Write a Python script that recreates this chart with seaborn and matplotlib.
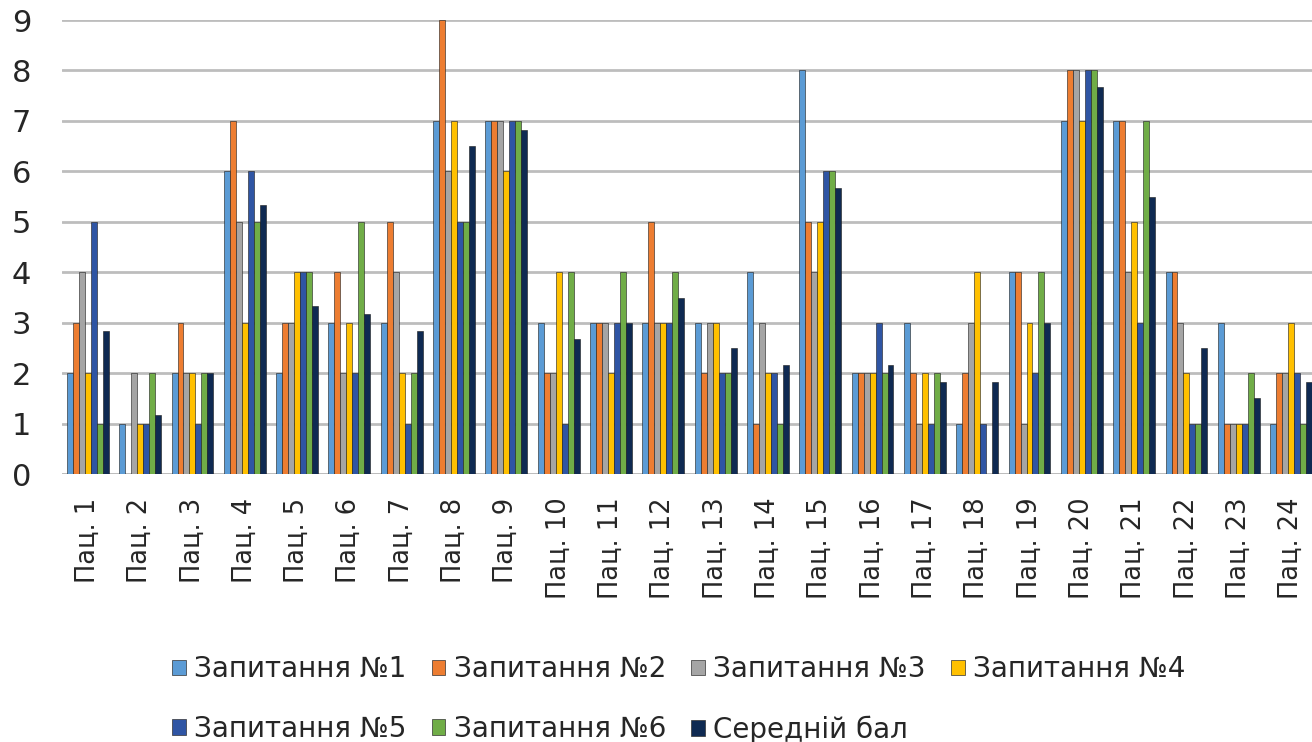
import matplotlib
matplotlib.use("Agg")
import matplotlib.pyplot as plt
import pandas as pd
import seaborn as sns
from matplotlib.patches import Patch

patients = [f"Пац. {i}" for i in range(1, 25)]
series_names = [
    "Запитання №1",
    "Запитання №2",
    "Запитання №3",
    "Запитання №4",
    "Запитання №5",
    "Запитання №6",
    "Середній бал",
]

q1 = [2, 1, 2, 6, 2, 3, 3, 7, 7, 3, 3, 3, 3, 4, 8, 2, 3, 1, 4, 7, 7, 4, 3, 1]
q2 = [3, 0, 3, 7, 3, 4, 5, 9, 7, 2, 3, 5, 2, 1, 5, 2, 2, 2, 4, 8, 7, 4, 1, 2]
q3 = [4, 2, 2, 5, 3, 2, 4, 6, 7, 2, 3, 3, 3, 3, 4, 2, 1, 3, 1, 8, 4, 3, 1, 2]
q4 = [2, 1, 2, 3, 4, 3, 2, 7, 6, 4, 2, 3, 3, 2, 5, 2, 2, 4, 3, 7, 5, 2, 1, 3]
q5 = [5, 1, 1, 6, 4, 2, 1, 5, 7, 1, 3, 3, 2, 2, 6, 3, 1, 1, 2, 8, 3, 1, 1, 2]
q6 = [1, 2, 2, 5, 4, 5, 2, 5, 7, 4, 4, 4, 2, 1, 6, 2, 2, 0, 4, 8, 7, 1, 2, 1]
avg = [2.83, 1.17, 2.0, 5.33, 3.33, 3.17, 2.83, 6.5, 6.83, 2.67, 3.0, 3.5,
       2.5, 2.17, 5.67, 2.17, 1.83, 1.83, 3.0, 7.67, 5.5, 2.5, 1.5, 1.83]

colors = ["#5B9BD5", "#ED7D31", "#A5A5A5", "#FFC000", "#2F55A4", "#70AD47", "#0F2A52"]

rows = []
for name, vals in zip(series_names, [q1, q2, q3, q4, q5, q6, avg]):
    for p, v in zip(patients, vals):
        rows.append({"patient": p, "series": name, "value": v})
df = pd.DataFrame(rows)

sns.set_style("white")
plt.rcParams["font.family"] = ["DejaVu Sans"]

fig = plt.figure(figsize=(13.12, 7.42), dpi=100)
ax = fig.add_axes([0.047, 0.361, 0.957, 0.612])

sns.barplot(
    data=df,
    x="patient",
    y="value",
    hue="series",
    hue_order=series_names,
    order=patients,
    palette=colors,
    width=0.8,
    saturation=1,
    edgecolor="#1a1a1a",
    linewidth=0.4,
    errorbar=None,
    legend=False,
    ax=ax,
    zorder=3,
)

ax.set_ylim(0, 9)
ax.set_yticks(range(0, 10))
ax.yaxis.grid(True, color="#BDBDBD", linewidth=2, zorder=0)
ax.set_axisbelow(True)
for side in ["top", "right", "left", "bottom"]:
    ax.spines[side].set_visible(False)
ax.axhline(0, color="#BDBDBD", linewidth=2, zorder=1)
ax.set_xlabel("")
ax.set_ylabel("")
ax.tick_params(axis="y", length=0, pad=22, labelsize=22)
ax.tick_params(axis="x", length=0, pad=17, labelsize=18.5, rotation=90)

handles = [Patch(facecolor=c, edgecolor="#333333", linewidth=0.5) for c in colors]
order = [0, 4, 1, 5, 2, 6, 3]
fig.legend(
    [handles[i] for i in order],
    [series_names[i] for i in order],
    loc="lower left",
    bbox_to_anchor=(0.112, -0.036),
    ncol=4,
    frameon=False,
    fontsize=20,
    handlelength=0.5,
    handleheight=0.5,
    handletextpad=0.3,
    columnspacing=0.9,
    labelspacing=1.15,
)

fig.savefig("out.png", dpi=100)
